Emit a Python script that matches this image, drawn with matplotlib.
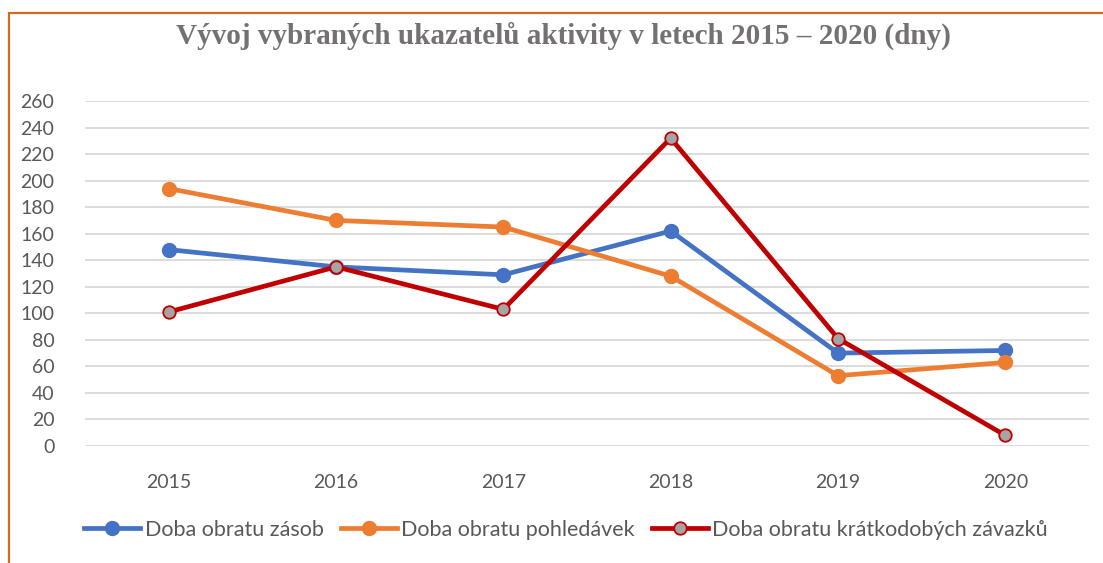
import matplotlib.pyplot as plt
from matplotlib.patches import Rectangle
from matplotlib.lines import Line2D

# Data
years = ['2015', '2016', '2017', '2018', '2019', '2020']
zasoby = [148, 135, 129, 162, 70, 72]
pohledavky = [194, 170, 165, 128, 53, 63]
zavazky = [101, 135, 103, 232, 81, 8]
labels = ['Doba obratu zásob', 'Doba obratu pohledávek', 'Doba obratu krátkodobých závazků']
yticks = list(range(0, 261, 20))

W, H = 1103, 563
fig = plt.figure(figsize=(W / 100, H / 100), dpi=100)
ax = fig.add_axes([85 / W, 1 - 446 / H, (1089 - 85) / W, (446 - 101) / H])

x = range(len(years))
blue, orange, red, grey = '#4472C4', '#ED7D31', '#C00000', '#A5A5A5'

ax.plot(x, zasoby, color=blue, lw=3.4, marker='o', ms=10, mfc=blue, mec=blue, zorder=3)
ax.plot(x, pohledavky, color=orange, lw=3.4, marker='o', ms=10, mfc=orange, mec=orange, zorder=3)
ax.plot(x, zavazky, color=red, lw=3.4, marker='o', ms=9, mfc=grey, mec=red, mew=1.3, zorder=4)

ax.set_xlim(-0.5, len(years) - 0.5)
ax.set_ylim(0, 260)
ax.set_yticks(yticks)
ax.set_xticks(list(x))
ax.set_xticklabels(years)
ax.grid(axis='y', color='#D9D9D9', lw=1.3)
ax.set_axisbelow(True)
for s in ax.spines.values():
    s.set_visible(False)
ax.tick_params(length=0, labelsize=14, labelcolor='#595959')
ax.tick_params(axis='y', pad=22)
ax.tick_params(axis='x', pad=20)
for t in ax.get_xticklabels() + ax.get_yticklabels():
    t.set_fontfamily('Lato')

fig.text(563 / W, 1 - 36 / H, 'Vývoj vybraných ukazatelů aktivity v letech 2015 – 2020 (dny)',
         ha='center', va='center', fontsize=21, fontweight='bold',
         family='Liberation Serif', color='#767171')

handles = [
    Line2D([], [], color=blue, lw=3.4, marker='o', ms=10, mfc=blue, mec=blue),
    Line2D([], [], color=orange, lw=3.4, marker='o', ms=10, mfc=orange, mec=orange),
    Line2D([], [], color=red, lw=3.4, marker='o', ms=9, mfc=grey, mec=red, mew=1.3),
]
fig.legend(handles, labels, loc='center', bbox_to_anchor=(566 / W, 1 - 530 / H), ncol=3,
           frameon=False, handlelength=2.6, handletextpad=0.2, columnspacing=0.8,
           prop={'family': 'Lato', 'size': 15.5}, labelcolor='#595959')

fig.patches.append(Rectangle((8.5 / W, -0.1), 1.2, 1.1 - 13.5 / H,
                             transform=fig.transFigure, fill=False,
                             edgecolor='#D2691E', lw=1.6))

fig.savefig('out.png', dpi=100)
